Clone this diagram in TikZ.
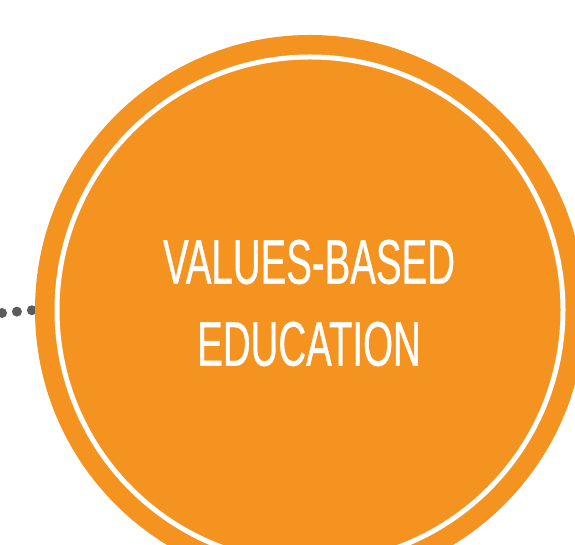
\documentclass[tikz,border=0pt]{standalone}
\usepackage{fontspec}
\setmainfont{Liberation Sans}[FakeStretch=0.61,FakeBold=0.6]
\usetikzlibrary{backgrounds}
\definecolor{valorange}{HTML}{F4931F}
\definecolor{dotgray}{HTML}{5A5B5D}

\begin{document}
\begin{tikzpicture}[x=1pt,y=1pt,
  main node/.style={circle,fill=valorange,minimum size=550pt,inner sep=0pt},
  ring/.style={draw=white,line width=5pt},
  title/.style={text=white,align=center,inner sep=0pt,font=\fontsize{63}{82}\selectfont},
  dots/.style={draw=dotgray,line width=10pt,line cap=round,dash pattern=on 0pt off 15pt}]

  \useasboundingbox (0,0) rectangle (575,545);

  \node[main node] (edu) at (310,235) {};
  \draw[ring] (edu.center) circle (253);
  \node[title] (label) at (309,242) {VALUES-BASED\\EDUCATION};

  \coordinate (dotstart) at (2,232);
  \begin{scope}[on background layer]
    \path[dots] (dotstart) -- (edu.west);
  \end{scope}
\end{tikzpicture}
\end{document}
